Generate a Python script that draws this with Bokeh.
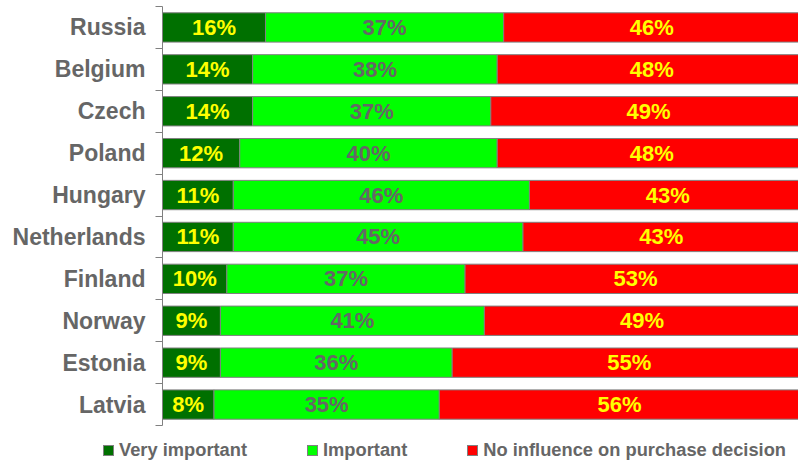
import numpy as np
from bokeh.plotting import figure
from bokeh.layouts import column
from bokeh.models import ColumnDataSource, FixedTicker, Range1d, Div
from bokeh.core.properties import value
from bokeh.embed import file_html
from bokeh.resources import INLINE

countries = ["Russia", "Belgium", "Czech", "Poland", "Hungary",
             "Netherlands", "Finland", "Norway", "Estonia", "Latvia"]
very_important = [16, 14, 14, 12, 11, 11, 10, 9, 9, 8]
important = [37, 38, 37, 40, 46, 45, 37, 41, 36, 35]
no_influence = [46, 48, 49, 48, 43, 43, 53, 49, 55, 56]
series_names = ["Very important", "Important", "No influence on purchase decision"]
colors = ["#007000", "#00FF00", "#FF0000"]
label_colors = ["#FFFF00", "#666666", "#FFFF00"]

FONT = "Liberation Sans"
n = len(countries)
ypos = [n - 0.5 - i for i in range(n)]

src = ColumnDataSource(dict(y=ypos, very=very_important, imp=important, no=no_influence))

p = figure(width=798, height=426, x_range=Range1d(0, 98.8), y_range=Range1d(0, n),
           min_border_left=162, min_border_right=0, min_border_top=6, min_border_bottom=1,
           x_axis_location=None, toolbar_location=None, output_backend="svg")
p.outline_line_color = None
p.xgrid.visible = False
p.ygrid.visible = False

p.hbar_stack(["very", "imp", "no"], y="y", height=0.7, color=colors,
             line_color="#808080", line_width=1, source=src)

# value labels
vals = np.array([very_important, important, no_influence], dtype=float)
starts = np.vstack([np.zeros(n), np.cumsum(vals, axis=0)[:-1]])
centers = starts + vals / 2
for k in range(3):
    p.text(x=list(centers[k]), y=ypos, text=[f"{int(v)}%" for v in vals[k]],
           text_align="center", text_baseline="middle", text_font=value(FONT),
           text_font_size="22px", text_font_style="bold", text_color=label_colors[k])

ax = p.yaxis[0]
ax.ticker = FixedTicker(ticks=ypos, minor_ticks=list(range(n + 1)))
ax.major_label_overrides = {y: c for y, c in zip(ypos, countries)}
ax.major_tick_out = 0
ax.major_tick_in = 0
ax.minor_tick_out = 7
ax.minor_tick_in = 0
ax.minor_tick_line_color = "#808080"
ax.axis_line_color = "#808080"
ax.major_label_standoff = 10
ax.major_label_text_font = FONT
ax.major_label_text_font_size = "23px"
ax.major_label_text_font_style = "bold"
ax.major_label_text_color = "#666666"

# legend strip (HTML)
items_html = "".join(
    f'<span style="display:inline-flex;align-items:center;margin-right:60px;white-space:nowrap;">'
    f'<span style="display:inline-block;width:11px;height:11px;background:{c};'
    f'border:1px solid #808080;margin-right:5px;"></span>{s}</span>'
    for s, c in zip(series_names, colors)
)
legend_html = (
    f'<div style="display:flex;align-items:center;height:24px;margin-top:12px;'
    f'padding-left:103px;font-family:\'{FONT}\';font-size:18.3px;font-weight:bold;'
    f'color:#666666;white-space:nowrap;">{items_html}</div>'
)
legend_div = Div(text=legend_html, width=798, height=38, margin=0)

open("out.html", "w").write(file_html(column(p, legend_div, spacing=0), INLINE))
